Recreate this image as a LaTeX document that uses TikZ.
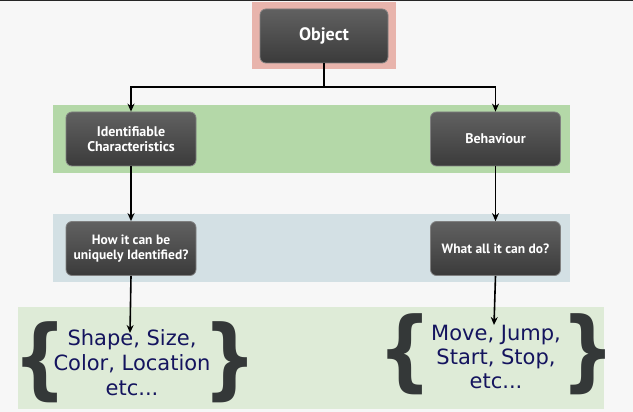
\documentclass[tikz,border=0pt]{standalone}
\usepackage{fontspec}
\usepackage{graphicx}
\setmainfont{DejaVu Sans}
\newfontfamily\boxfont{PT Sans}
\usetikzlibrary{arrows.meta}
\definecolor{pinkbg}{HTML}{E8B4AC}
\definecolor{greenbg}{HTML}{B4D8A8}
\definecolor{bluebg}{HTML}{D3E0E4}
\definecolor{lightgreenbg}{HTML}{DEEBD7}
\definecolor{navytext}{HTML}{14145E}
\definecolor{bracecol}{HTML}{343838}
\tikzset{
  darkbox/.style={rounded corners=6pt, draw=black!50, line width=0.8pt,
    top color=black!62, bottom color=black!77, text=white,
    font=\boxfont\bfseries\fontsize{14}{15}\selectfont, align=center,
    minimum width=130pt, minimum height=54pt, inner sep=0pt},
  arr/.style={-{Stealth[length=8pt,width=7pt]}, line width=1.6pt, black},
  ln/.style={line width=1.6pt, black},
  bluetxt/.style={text=navytext, font=\fontsize{21}{25}\selectfont, align=center},
  bracenode/.style={text=bracecol, font=\bfseries\fontsize{88}{88}\selectfont, inner sep=0pt}
}
\begin{document}
\begin{tikzpicture}[x=1pt,y=-1pt]
\useasboundingbox (0,0) rectangle (633,412);
\fill[black!3] (0,0) rectangle (633,412);
\draw[line width=1.5pt, black!85] (0,0.5) -- (633,0.5);
% bands
\fill[pinkbg] (252,2) rectangle (396,69);
\fill[greenbg] (53,105) rectangle (570,173);
\fill[bluebg] (53,214) rectangle (570,282);
\fill[lightgreenbg] (18,307) rectangle (604,409);
% boxes
\node[darkbox, minimum width=128pt, font=\boxfont\bfseries\fontsize{18}{20}\selectfont] (obj) at (324,36) {Object};
\node[darkbox] (idc) at (131,139) {Identifiable\\Characteristics};
\node[darkbox] (beh) at (495.5,139) {Behaviour};
\node[darkbox, font=\boxfont\bfseries\fontsize{13.5}{15}\selectfont] (how) at (131,248.5) {How it can be\\uniquely Identified?};
\node[darkbox, font=\boxfont\bfseries\fontsize{13.5}{15}\selectfont] (what) at (495.5,248.5) {What all it can do?};
% texts
\node[bluetxt] (lt) at (132,363) {Shape, Size,\\Color, Location\\etc...};
\node[bluetxt, font=\fontsize{21}{24}\selectfont] (rt) at (496,357) {Move, Jump,\\Start, Stop,\\etc...};
\node[bracenode] (lb1) at (40,362) {\scalebox{0.85}[1]{\{}};
\node[bracenode] (rb1) at (230,362) {\scalebox{0.85}[1]{\}}};
\node[bracenode] (lb2) at (405,354) {\scalebox{0.85}[1]{\{}};
\node[bracenode] (rb2) at (588,354) {\scalebox{0.85}[1]{\}}};
% connectors
\coordinate (j) at (324,87);
\coordinate (ltend) at (130,333);
\coordinate (rtend) at (494,325);
\draw[ln] (obj.south) -- (j);
\draw[arr] (j) -| (idc.north);
\draw[arr] (j) -| (beh.north);
\draw[arr] (idc.south) -- (how.north);
\draw[arr] (beh.south) -- (what.north);
\draw[arr] (how.south) -- (ltend);
\draw[arr] (what.south) -- (rtend);
\end{tikzpicture}
\end{document}
